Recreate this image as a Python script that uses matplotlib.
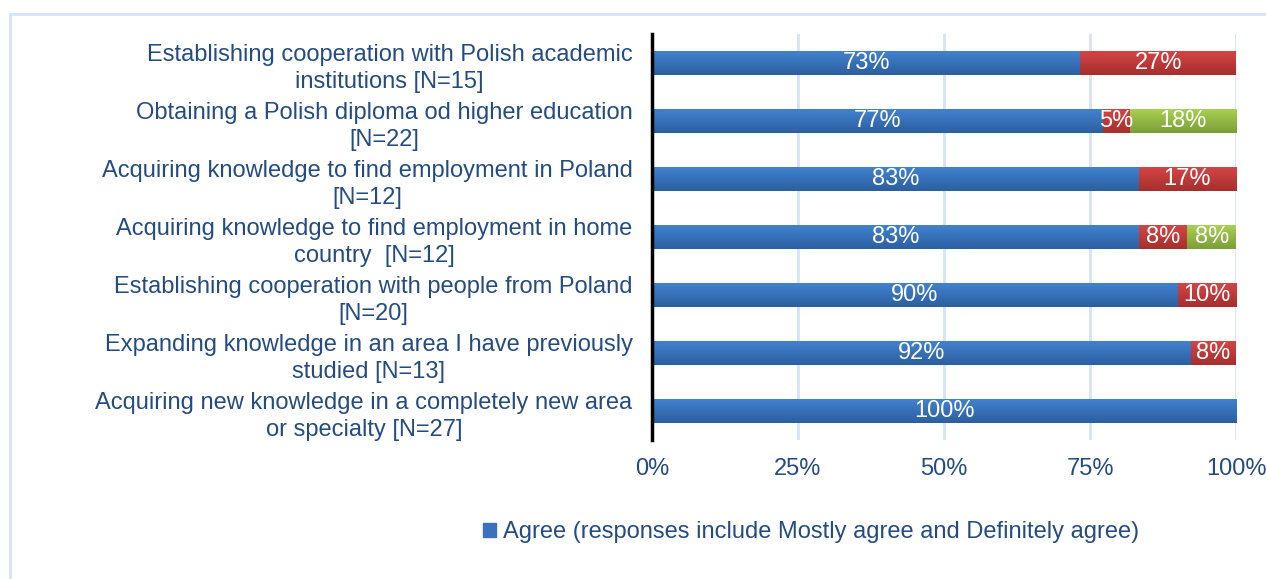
import matplotlib
matplotlib.use("Agg")
import matplotlib.pyplot as plt
import numpy as np
from matplotlib.patches import Rectangle
from matplotlib.colors import LinearSegmentedColormap

# --- Survey data (top to bottom) ---
categories = [
    "Establishing cooperation with Polish academic\ninstitutions [N=15]",
    "Obtaining a Polish diploma od higher education\n[N=22]",
    "Acquiring knowledge to find employment in Poland\n[N=12]",
    "Acquiring knowledge to find employment in home\ncountry  [N=12]",
    "Establishing cooperation with people from Poland\n[N=20]",
    "Expanding knowledge in an area I have previously\nstudied [N=13]",
    "Acquiring new knowledge in a completely new area\nor specialty [N=27]",
]
n_resp = [15, 22, 12, 12, 20, 13, 27]
agree_cnt = [11, 17, 10, 10, 18, 12, 27]
disagree_cnt = [4, 1, 2, 1, 2, 1, 0]
unsure_cnt = [0, 4, 0, 1, 0, 0, 0]
ticks = [0, 25, 50, 75, 100]
legend_label = "Agree (responses include Mostly agree and Definitely agree)"

TEXT = "#244c82"
GRID = "#d6e4f5"
FS = 17

plt.rcParams['font.family'] = ['Liberation Sans', 'DejaVu Sans']

n = np.array(n_resp, dtype=float)
agree = np.array(agree_cnt) / n * 100
disagree = np.array(disagree_cnt) / n * 100
unsure = np.array(unsure_cnt) / n * 100

fig = plt.figure(figsize=(12.66, 5.79), dpi=100)
ax = fig.add_axes([652 / 1266, 1 - 440 / 579, 584 / 1266, 406 / 579])

# light frame around the whole chart area
fig.patches.append(Rectangle((10 / 1266, -0.01), 1.0, 1.01 - 14 / 579, transform=fig.transFigure,
                             fill=False, edgecolor=GRID, linewidth=2))

y = np.arange(len(categories))
h = 0.4

def gradient_bars(left, width, top, bottom):
    cmap = LinearSegmentedColormap.from_list("g", [bottom, top])
    bars = ax.barh(y, width, left=left, height=h, color=top, linewidth=0, zorder=2)
    grad = np.linspace(0, 1, 64).reshape(-1, 1)
    for b in bars:
        if b.get_width() <= 0:
            continue
        x0, y0 = b.get_x(), b.get_y()
        im = ax.imshow(grad, cmap=cmap, aspect='auto', origin='lower',
                       extent=[x0, x0 + b.get_width(), y0 + h, y0], zorder=3)
        im.set_clip_path(b)
    return bars

gradient_bars(0, agree, "#4182d0", "#2c5f9f")
gradient_bars(agree, disagree, "#d44544", "#a52f2e")
gradient_bars(agree + disagree, unsure, "#a8d052", "#7c9e37")

for vals, lefts in [(agree, 0 * agree), (disagree, agree), (unsure, agree + disagree)]:
    for yi, v, l in zip(y, vals, lefts):
        if v > 0:
            ax.text(l + v / 2, yi, f"{v:.0f}%", ha='center', va='center',
                    color='white', fontsize=FS, zorder=5)

ax.set_xlim(0, 100)
ax.set_ylim(len(categories) - 0.5, -0.5)
ax.set_xticks(ticks)
ax.set_xticklabels([f"{t}%" for t in ticks])
ax.set_yticks(y)
ax.set_yticklabels(categories, multialignment='center')
ax.tick_params(axis='x', length=0, pad=13, labelsize=FS, labelcolor=TEXT)
ax.tick_params(axis='y', length=0, pad=14, labelsize=FS, labelcolor=TEXT)
for lab in ax.get_yticklabels():
    lab.set_linespacing(1.3)

ax.grid(axis='x', color=GRID, linewidth=2, zorder=0)
ax.set_axisbelow(True)
for s in ['top', 'right', 'bottom']:
    ax.spines[s].set_visible(False)
ax.spines['left'].set_linewidth(2.5)
ax.spines['left'].set_color('black')
ax.spines['left'].set_zorder(6)

handle = Rectangle((0, 0), 1, 1, color="#3a72bb")
fig.legend([handle], [legend_label], loc='center', bbox_to_anchor=(811 / 1266, 1 - 532 / 579),
           frameon=False, fontsize=FS, labelcolor=TEXT, handlelength=0.55, handleheight=0.55,
           handletextpad=0.3)

fig.savefig("out.png", dpi=100)
